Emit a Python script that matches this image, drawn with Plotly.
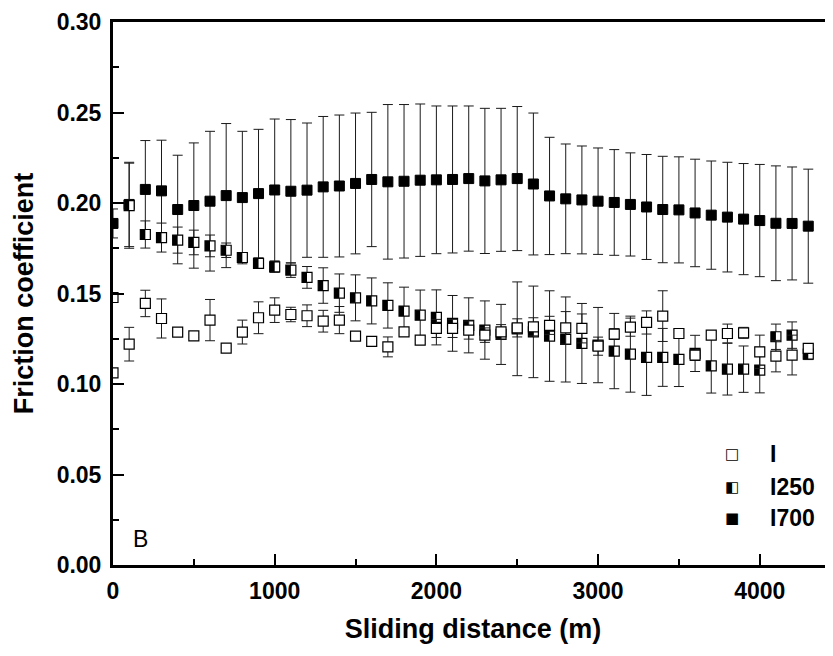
import plotly.graph_objects as go

# ---------------- data ----------------
distance = [0, 100, 200, 300, 400, 500, 600, 700, 800, 900,
            1000, 1100, 1200, 1300, 1400, 1500, 1600, 1700, 1800, 1900,
            2000, 2100, 2200, 2300, 2400, 2500, 2600, 2700, 2800, 2900,
            3000, 3100, 3200, 3300, 3400, 3500, 3600, 3700, 3800, 3900,
            4000, 4100, 4200, 4300]

mu_I = [0.1062, 0.1220, 0.1445, 0.1362, 0.1287, 0.1266, 0.1353, 0.1198, 0.1287, 0.1366,
        0.1408, 0.1384, 0.1377, 0.1347, 0.1353, 0.1264, 0.1235, 0.1205, 0.1288, 0.1242,
        0.1307, 0.1307, 0.1298, 0.1270, 0.1288, 0.1310, 0.1316, 0.1324, 0.1310, 0.1307,
        0.1209, 0.1276, 0.1314, 0.1340, 0.1375, 0.1279, 0.1160, 0.1270, 0.1279, 0.1283,
        0.1178, 0.1154, 0.1160, 0.1197]
err_I = [0.0, 0.0093, 0.0073, 0.0108, 0.001, 0.001, 0.0114, 0.001, 0.0066, 0.0088,
         0.0068, 0.004, 0.006, 0.006, 0.0075, 0.002, 0.002, 0.0055, 0.002, 0.002,
         0.005, 0.005, 0.005, 0.004, 0.004, 0.005, 0.005, 0.005, 0.009, 0.008,
         0.005, 0.003, 0.005, 0.0064, 0.014, 0.002, 0.003, 0.002, 0.0052, 0.003,
         0.0092, 0.0087, 0.011, 0.002]

mu_I250 = [0.1478, 0.1985, 0.1826, 0.1809, 0.1795, 0.1782, 0.1763, 0.1739, 0.1699, 0.1666,
           0.1647, 0.1629, 0.1589, 0.1544, 0.1502, 0.1476, 0.1459, 0.1434, 0.1403, 0.1380,
           0.1368, 0.1335, 0.1324, 0.1298, 0.1274, 0.1305, 0.1288, 0.1265, 0.1246, 0.1224,
           0.1215, 0.1182, 0.1165, 0.1147, 0.1147, 0.1136, 0.1169, 0.1100, 0.1082, 0.1082,
           0.1077, 0.1261, 0.1270, 0.1165]
err_I250 = [0.0, 0.0235, 0.0075, 0.008, 0.0072, 0.0068, 0.006, 0.004, 0.002, 0.002,
            0.003, 0.004, 0.006, 0.0098, 0.0106, 0.0127, 0.0127, 0.0125, 0.0132, 0.0139,
            0.0152, 0.0154, 0.0152, 0.0161, 0.0166, 0.0259, 0.0253, 0.025, 0.0235, 0.0221,
            0.0208, 0.0208, 0.021, 0.021, 0.016, 0.015, 0.01, 0.015, 0.0143, 0.0128,
            0.0126, 0.007, 0.0073, 0.003]

mu_I700 = [0.1887, 0.1992, 0.2075, 0.2067, 0.1964, 0.1986, 0.2010, 0.2041, 0.2030, 0.2052,
           0.2072, 0.2065, 0.2071, 0.2089, 0.2094, 0.2108, 0.2130, 0.2117, 0.2120, 0.2126,
           0.2128, 0.2130, 0.2135, 0.2122, 0.2128, 0.2135, 0.2105, 0.2039, 0.2023, 0.2017,
           0.2010, 0.2003, 0.1992, 0.1978, 0.1964, 0.1962, 0.1945, 0.1933, 0.1922, 0.1911,
           0.1903, 0.1888, 0.1887, 0.1872]
err_I700 = [0.008, 0.0233, 0.027, 0.028, 0.030, 0.0346, 0.0386, 0.0398, 0.0366, 0.0355,
            0.0392, 0.0396, 0.0371, 0.0389, 0.0392, 0.0389, 0.0371, 0.0427, 0.0424, 0.0421,
            0.0408, 0.0406, 0.0401, 0.0401, 0.0395, 0.0398, 0.0392, 0.0324, 0.0303, 0.0298,
            0.0294, 0.0292, 0.0285, 0.029, 0.0294, 0.0293, 0.0297, 0.0299, 0.0303, 0.0307,
            0.031, 0.0317, 0.0312, 0.0315]

x_ticks = [0, 1000, 2000, 3000, 4000]
y_ticks = [0.00, 0.05, 0.10, 0.15, 0.20, 0.25, 0.30]
legend_names = ["I", "I250", "I700"]
legend_glyphs = ["\u25A1", "\u25E7", "\u25A0"]

# ---------------- figure ----------------
FONT = "Liberation Sans, Arial, sans-serif"
MS = 10
BAR = "#1a1a1a"

def ebar(err):
    return dict(type="data", array=err, visible=True, color=BAR,
                thickness=1, width=5)

fig = go.Figure()

fig.add_trace(go.Scatter(
    x=distance, y=mu_I700, mode="markers", name="I700",
    marker=dict(symbol="square", size=MS, color="black",
                line=dict(color="black", width=1)),
    error_y=ebar(err_I700)))

fig.add_trace(go.Scatter(
    x=distance, y=mu_I250, mode="markers", name="I250",
    marker=dict(symbol="square", size=MS, color="white",
                line=dict(color="black", width=1.2)),
    error_y=ebar(err_I250)))

# left-half fill of the I250 squares (drawn as a thick one-sided x error bar)
fig.add_trace(go.Scatter(
    x=distance, y=mu_I250, mode="markers", name="I250 fill",
    marker=dict(size=1, opacity=0), hoverinfo="skip",
    error_x=dict(type="constant", value=0, valueminus=31, symmetric=False,
                 visible=True, color="black", thickness=MS, width=0)))

fig.add_trace(go.Scatter(
    x=distance, y=mu_I, mode="markers", name="I",
    marker=dict(symbol="square", size=MS, color="white",
                line=dict(color="black", width=1.2)),
    error_y=ebar(err_I)))

tickfont = dict(family=FONT, size=23, color="black", weight="bold")

fig.update_xaxes(
    range=[0, 4453], tickvals=x_ticks, ticktext=[str(v) for v in x_ticks],
    ticks="inside", ticklen=11, tickwidth=2, tickcolor="black",
    minor=dict(ticks="inside", ticklen=6, tickwidth=2, dtick=500, tickcolor="black"),
    showline=True, linewidth=2.5, linecolor="black", mirror=True,
    showgrid=False, zeroline=False, tickfont=tickfont, ticklabelstandoff=4,
    title=dict(text="Sliding distance (m)", standoff=16,
               font=dict(family=FONT, size=27, color="black", weight="bold")))

fig.update_yaxes(
    range=[0, 0.30], tickvals=y_ticks, ticktext=[f"{v:.2f}" for v in y_ticks],
    ticks="inside", ticklen=11, tickwidth=2, tickcolor="black",
    minor=dict(ticks="inside", ticklen=6, tickwidth=2, dtick=0.025, tickcolor="black"),
    showline=True, linewidth=3, linecolor="black", mirror=False,
    showgrid=False, zeroline=False, tickfont=tickfont, ticklabelstandoff=4,
    title=dict(text="Friction coefficient", standoff=16,
               font=dict(family=FONT, size=27, color="black", weight="bold")))

annotations = [dict(text="B", x=0.0375, y=0.048, xref="paper", yref="paper",
                    showarrow=False, xanchor="center", yanchor="middle",
                    font=dict(family=FONT, size=23, color="black"))]
row_y = [0.2044, 0.1436, 0.0866]
for g, name, yy in zip(legend_glyphs, legend_names, row_y):
    annotations.append(dict(text=g, x=0.8597, y=yy, xref="paper", yref="paper",
                            showarrow=False, xanchor="center", yanchor="middle",
                            font=dict(family="DejaVu Sans", size=15, color="black")))
    annotations.append(dict(text=name, x=0.9097, y=yy, xref="paper", yref="paper",
                            showarrow=False, xanchor="left", yanchor="middle",
                            font=dict(family=FONT, size=23, color="black", weight="bold")))

# the page body adds an 8 px margin, so the figure is 8 px smaller than the window
fig.update_layout(
    width=825, height=648,
    margin=dict(l=105, r=0, t=14, b=91, autoexpand=False),
    paper_bgcolor="white", plot_bgcolor="white",
    showlegend=False, annotations=annotations,
    font=dict(family=FONT, color="black"))

fig.write_html("out.html")
